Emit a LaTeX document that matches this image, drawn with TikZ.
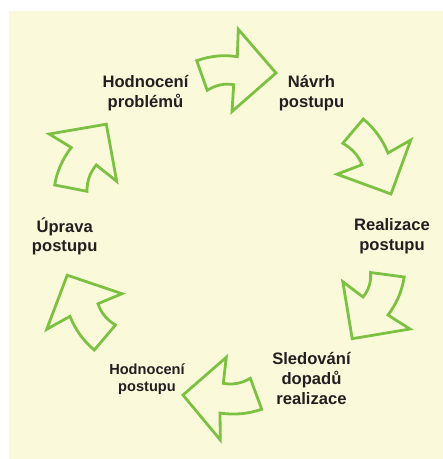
\documentclass[tikz,border=0pt]{standalone}
\usepackage{fontspec}
\setmainfont{Liberation Sans}
\usepackage{tikz}

\definecolor{bgyellow}{RGB}{250,250,219}
\definecolor{arrgreen}{RGB}{125,193,66}
\definecolor{txtdark}{RGB}{35,31,32}

\tikzset{
  cyclearrow/.style={draw=arrgreen, line width=2.8pt, line join=miter},
  lbl/.style={align=center, inner sep=0.75pt, text=txtdark, font=\fontsize{16.6}{19.6}\selectfont\bfseries},
  lblsmall/.style={lbl, font=\fontsize{14.6}{17.6}\selectfont\bfseries}
}

\begin{document}
\begin{tikzpicture}[x=1pt,y=1pt,yscale=-1,xscale=1]
    \useasboundingbox (0,0) rectangle (443,459);
    %Shape: Rectangle
    \fill[bgyellow] (9,11) rectangle (443,459);

    %Shape: Arrow (top)
    \draw[cyclearrow] (196.7,60.7) .. controls (210.2,55.9) and (223.8,54.5) .. (237.3,56.7) -- (238.3,29.3) -- (276,73) -- (232,111.5) -- (233.7,84.7) .. controls (224.9,83.1) and (216,84.9) .. (207.2,90.3) -- cycle ;
    %Shape: Arrow (top right)
    \draw[cyclearrow] (363.3,119) .. controls (374.4,128.3) and (382.7,139.7) .. (388,153) -- (410.8,140) -- (391,194) -- (337,174.2) -- (362,164.7) .. controls (358.5,155.7) and (352.1,148.5) .. (342.8,143.3) -- cycle ;
    %Shape: Arrow (bottom right)
    \draw[cyclearrow] (370.5,272.5) -- (404.2,277) .. controls (402.1,290.9) and (396.7,303.5) .. (388,315) -- (410,329) -- (352.2,338.7) -- (342.8,281.7) -- (363,297) .. controls (368.8,290) and (371.3,281.9) .. cycle ;
    %Shape: Arrow (bottom)
    \draw[cyclearrow] (226.3,357.3) -- (223.3,383.3) .. controls (232.5,385.1) and (241.5,383.5) .. (250.3,378.3) -- (261.7,409.2) .. controls (248,414) and (234.1,415.2) .. (220,413) -- (220.3,440) -- (183,395) -- cycle ;
    %Shape: Arrow (bottom left)
    \draw[cyclearrow] (67.2,275.2) -- (122,293.7) -- (98,303.7) .. controls (100.9,312.7) and (106.8,319.8) .. (115.5,325) -- (94.3,350) .. controls (83.3,340.8) and (75.2,329.5) .. (70,316.3) -- (46.7,329.3) -- cycle ;
    %Shape: Arrow (top left)
    \draw[cyclearrow] (106.3,124.2) -- (116.7,181.3) -- (96.3,165) .. controls (90,172.5) and (86.9,181.2) .. (87,191.3) -- (54.7,185) .. controls (57,171.2) and (62.6,158.7) .. (71.3,147.5) -- (49.2,134) -- cycle ;

    % Text Node
    \node[lbl] (hodprob) at (145.5,93) {Hodnocení\\problémů};
    % Text Node
    \node[lbl] (navrh) at (311.5,93) {Návrh\\postupu};
    % Text Node
    \node[lbl] (realiz) at (392,236.5) {Realizace\\postupu};
    % Text Node
    \node[lbl] (sledov) at (311.5,378.5) {Sledování\\dopadů\\realizace};
    % Text Node
    \node[lblsmall] (hodpost) at (147,379) {Hodnocení\\postupu};
    % Text Node
    \node[lbl] (uprava) at (64.7,236.5) {Úprava\\postupu};

\end{tikzpicture}
\end{document}
